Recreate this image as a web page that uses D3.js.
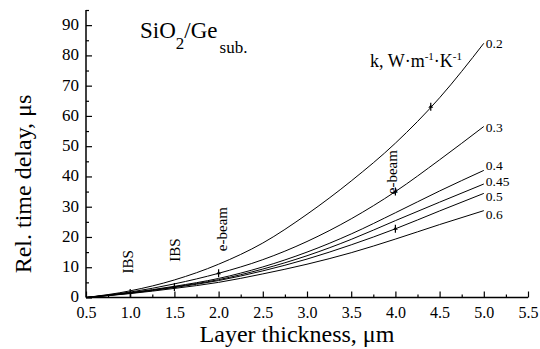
<!DOCTYPE html>
<html>
<head>
<meta charset="utf-8">
<script src="https://cdn.jsdelivr.net/npm/d3@7"></script>
<style>
  body { margin: 0; background: #fff; }
  text { font-family: "Liberation Serif", "Times New Roman", serif; fill: #000; }
</style>
</head>
<body>
<svg id="chart" width="540" height="349" font-family="Liberation Serif"></svg>
<script>
// layer thickness (um) where curves were read
const thickness = [0.5, 1.0, 1.5, 2.0, 2.5, 3.0, 3.5, 4.0, 4.5, 5.0];
// thermal conductivity of each curve, W/m/K
const kValues = ["0.2", "0.3", "0.4", "0.45", "0.5", "0.6"];
// relative time delay (us) for each k
const delay02  = [0, 2.2, 5.8, 11.0, 18.0, 27.5, 38.5, 51.0, 66.0, 84.0];
const delay03  = [0, 1.8, 4.5, 8.0, 12.5, 18.5, 26.0, 35.0, 45.5, 56.5];
const delay04  = [0, 1.6, 3.7, 6.3, 10.1, 15.0, 21.0, 28.0, 35.2, 42.0];
const delay045 = [0, 1.5, 3.5, 5.9, 9.4, 13.8, 19.2, 25.4, 31.5, 37.5];
const delay05  = [0, 1.4, 3.3, 5.6, 8.8, 12.7, 17.4, 22.7, 28.6, 34.4];
const delay06  = [0, 1.3, 3.0, 5.0, 7.8, 11.0, 14.8, 19.3, 24.1, 28.7];
const delays = [delay02, delay03, delay04, delay045, delay05, delay06];

// measured points (thickness, curve index) and deposition method notes
const markerX = [1.0, 1.5, 2.0, 4.0, 4.0, 4.4];
const markerCurve = [3, 3, 1, 1, 4, 0];
const noteText = ["IBS", "IBS", "e-beam", "e-beam"];
const noteX = [1.0, 1.5, 2.0, 4.0];
const noteY = [11.8, 15.7, 22.6, 41.4];

const xTicks = [0.5, 1.0, 1.5, 2.0, 2.5, 3.0, 3.5, 4.0, 4.5, 5.0, 5.5];
const yTicks = [0, 10, 20, 30, 40, 50, 60, 70, 80, 90];

const svg = d3.select("#chart");
const x = d3.scaleLinear().domain([0.5, 5.5]).range([86, 528]);
const y = d3.scaleLinear().domain([0, 95]).range([297.5, 10]);

// axes, ticks pointing inward
const xAxis = svg.append("g").attr("transform", "translate(0,297.5)")
  .call(d3.axisBottom(x).tickValues(xTicks).tickSize(-6).tickPadding(9).tickSizeOuter(0).tickFormat(d3.format(".1f")));
svg.append("g").attr("transform", "translate(0,297.5)")
  .call(d3.axisBottom(x).tickValues(d3.range(0.75, 5.5, 0.5)).tickSize(-3).tickFormat(""))
  .select(".domain").remove();

const yAxis = svg.append("g").attr("transform", "translate(86,0)")
  .call(d3.axisLeft(y).tickValues(yTicks).tickSize(-6).tickPadding(7).tickSizeOuter(0));
svg.append("g").attr("transform", "translate(86,0)")
  .call(d3.axisLeft(y).tickValues(d3.range(5, 96, 10)).tickSize(-3).tickFormat(""))
  .select(".domain").remove();

svg.selectAll("g").attr("font-family", "Liberation Serif");
svg.selectAll(".domain").attr("stroke-width", 1.5);
xAxis.select(".domain").attr("d", "M86,0H528");
yAxis.select(".domain").attr("d", "M0,10V297.5");
svg.selectAll(".tick line").attr("stroke-width", 1.2);
xAxis.selectAll(".tick text").attr("font-size", 16);
yAxis.selectAll(".tick text").attr("font-size", 17).attr("dy", "0.26em");

// curves
const labelNudge = [0, 0, -5, -3, 3, 3];
const line = d3.line().x(d => x(d[0])).y(d => y(d[1])).curve(d3.curveMonotoneX);
delays.forEach((vals, i) => {
  svg.append("path")
    .datum(thickness.map((t, j) => [t, vals[j]]))
    .attr("fill", "none").attr("stroke", "#000").attr("stroke-width", 1)
    .attr("d", line);
  const last = vals[vals.length - 1];
  svg.append("text")
    .attr("x", x(5.0) + 2).attr("y", y(last) + 5 + labelNudge[i])
    .style("font-size", "13.5px")
    .text(kValues[i]);
});

// markers on curves
function valueAt(ci, t) {
  const vals = delays[ci];
  const j = d3.bisectLeft(thickness, t);
  if (thickness[j] === t) return vals[j];
  const f = (t - thickness[j - 1]) / (thickness[j] - thickness[j - 1]);
  return vals[j - 1] + f * (vals[j] - vals[j - 1]);
}
markerX.forEach((t, i) => {
  const cx = x(t), cy = y(valueAt(markerCurve[i], t));
  svg.append("line").attr("x1", cx).attr("x2", cx).attr("y1", cy - 4).attr("y2", cy + 4)
    .attr("stroke", "#000").attr("stroke-width", 1.2);
  svg.append("path").attr("d", `M${cx - 2.5},${cy + 1}L${cx + 2.5},${cy + 1}L${cx},${cy - 2}Z`).attr("fill", "#000");
});

// method notes, rotated; baseline sits a little right of the thickness value
const noteShift = [3, 5.5, 8, 2];
noteText.forEach((s, i) => {
  svg.append("text")
    .attr("transform", `translate(${x(noteX[i]) + noteShift[i]},${y(noteY[i])}) rotate(-90)`)
    .attr("text-anchor", "middle")
    .style("font-size", "15px")
    .text(s);
});

// title
const title = svg.append("text").attr("x", 140).attr("y", 38).style("font-size", "23px");
title.append("tspan").text("SiO");
title.append("tspan").attr("dy", 11).style("font-size", "17px").text("2");
title.append("tspan").attr("dy", -11).text("/Ge");
title.append("tspan").attr("dy", 15).attr("dx", 2).style("font-size", "17px").text("sub.");

// legend title
const kt = svg.append("text").attr("x", 370).attr("y", 67).style("font-size", "18px");
kt.append("tspan").text("k, W\u00b7m");
kt.append("tspan").attr("dy", -7).style("font-size", "11px").text("-1");
kt.append("tspan").attr("dy", 7).text("\u00b7K");
kt.append("tspan").attr("dy", -7).style("font-size", "11px").text("-1");

// axis titles
svg.append("text").attr("x", 297).attr("y", 342).attr("text-anchor", "middle")
  .style("font-size", "24px").text("Layer thickness, \u03bcm");
svg.append("text").attr("transform", "translate(31,184) rotate(-90)").attr("text-anchor", "middle")
  .style("font-size", "24px").text("Rel. time delay, \u03bcs");
</script>
</body>
</html>
